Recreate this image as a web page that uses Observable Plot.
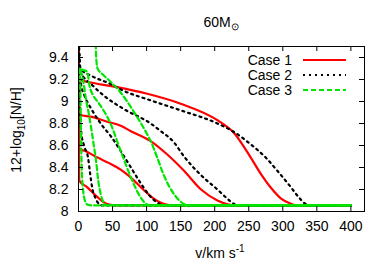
<!DOCTYPE html>
<html>
<head>
<meta charset="utf-8">
<script src="https://cdn.jsdelivr.net/npm/d3@7"></script>
<script src="https://cdn.jsdelivr.net/npm/@observablehq/plot@0.6"></script>
<style>
  html, body { margin: 0; padding: 0; background: #fff; }
  svg { font-family: "Liberation Sans", Arial, sans-serif; }
</style>
</head>
<body>
<div id="chart"></div>
<script>
// Case 1 (red solid)
const case1a = [[0,9.6],[1,9.2],[20,9.17],[57,9.13],[101,9.07],[150,8.98],[204,8.83],[229,8.71],[253,8.49],[268,8.34],[282,8.22],[297,8.12],[312,8.07],[320,8.055],[400,8.055]];
const case1b = [[0,9.6],[1,8.88],[20,8.86],[40,8.82],[62,8.78],[77,8.73],[106,8.64],[130,8.52],[155,8.37],[180,8.20],[204,8.10],[219,8.065],[230,8.055],[400,8.055]];
const case1c = [[0,9.6],[1,8.57],[10,8.55],[28,8.49],[45,8.44],[62,8.38],[80,8.29],[95,8.2],[110,8.12],[121,8.08],[131,8.06],[140,8.055],[400,8.055]];
const case1d = [[0,9.6],[1,8.28],[13,8.22],[28,8.13],[38,8.08],[47,8.06],[55,8.055],[400,8.055]];
// Case 2 (black dotted)
const case2a = [[0,9.6],[3,9.30],[20,9.23],[47,9.16],[62,9.11],[106,9.01],[150,8.92],[204,8.80],[229,8.72],[253,8.61],[275,8.49],[292,8.37],[312,8.22],[322,8.14],[331,8.08],[340,8.055],[400,8.055]];
const case2b = [[0,9.6],[3,9.27],[20,9.15],[40,9.04],[67,8.93],[106,8.80],[121,8.73],[140,8.63],[155,8.50],[180,8.33],[204,8.20],[218,8.12],[228,8.07],[236,8.055],[400,8.055]];
const case2c = [[0,9.6],[2,9.25],[5,9.12],[9,9.05],[20,8.92],[35,8.78],[48,8.68],[62,8.55],[75,8.42],[90,8.27],[105,8.14],[116,8.08],[125,8.055],[400,8.055]];
const case2d = [[0,9.6],[2,9.0],[4,8.72],[8,8.6],[14,8.49],[17,8.35],[20,8.22],[25,8.12],[30,8.07],[35,8.055],[400,8.055]];
// Case 3 (green dashed)
const case3a = [[25,9.6],[26,9.4],[28,9.3],[35,9.25],[47,9.18],[62,9.08],[82,8.90],[101,8.70],[106,8.64],[115,8.50],[126,8.32],[140,8.16],[150,8.09],[158,8.06],[165,8.055],[400,8.055]];
const case3b = [[5,9.29],[13,9.27],[16,9.15],[22,9.05],[28,9.0],[47,8.80],[62,8.55],[77,8.31],[91,8.13],[99,8.07],[105,8.055],[400,8.055]];
const case3c = [[3,9.28],[6,9.22],[11,9.02],[16,8.86],[22,8.62],[26,8.45],[29,8.28],[33,8.15],[37,8.08],[42,8.055],[400,8.055]];
const case3d = [[2,9.3],[3,9.0],[4,8.6],[5,8.35],[7,8.18],[10,8.09],[14,8.06],[20,8.055],[400,8.055]];

const xTicks = [0,50,100,150,200,250,300,350,400];
const yTicks = [8,8.2,8.4,8.6,8.8,9,9.2,9.4];
const yTickLabels = ["8","8.2","8.4","8.6","8.8","9","9.2","9.4"];
const legendLabels = ["Case 1","Case 2","Case 3"];

const groups = [
  {name: "Case 1", curves: [case1a, case1b, case1c, case1d]},
  {name: "Case 2", curves: [case2a, case2b, case2c, case2d]},
  {name: "Case 3", curves: [case3a, case3b, case3c, case3d]}
];
function rows(g) {
  const out = [];
  g.curves.forEach((c, i) => c.forEach(([v, n]) => out.push({v, n, curve: g.name + i})));
  return out;
}
const styles = {
  "Case 1": {stroke: "#ff0000", strokeWidth: 2.2, strokeDasharray: null},
  "Case 2": {stroke: "#000000", strokeWidth: 2.2, strokeDasharray: "2,4"},
  "Case 3": {stroke: "#00e600", strokeWidth: 2.2, strokeDasharray: "5,3"}
};

const W = 390, H = 273;
const mL = 78, mR = 26, mT = 46, mB = 62;
const pw = W - mL - mR, ph = H - mT - mB;
const tick = 5;

const lineMarks = groups.map(g => Plot.line(rows(g), {
  x: "v", y: "n", z: "curve", curve: "monotone-x", clip: true,
  stroke: styles[g.name].stroke, strokeWidth: styles[g.name].strokeWidth,
  strokeDasharray: styles[g.name].strokeDasharray
}));

const plot = Plot.plot({
  width: W, height: H,
  marginLeft: mL, marginRight: mR, marginTop: mT, marginBottom: mB,
  style: {fontFamily: "Liberation Sans, Arial, sans-serif", fontSize: "14px", background: "#fff", color: "#000"},
  x: {domain: [0, 420]},
  y: {domain: [8, 9.5]},
  marks: [
    ...lineMarks,
    Plot.frame({stroke: "#000", strokeWidth: 1}),
    Plot.tickX(xTicks, {x: d => d, insetTop: ph - tick, stroke: "#000"}),
    Plot.tickX(xTicks, {x: d => d, insetBottom: ph - tick, stroke: "#000"}),
    Plot.tickY(yTicks, {y: d => d, insetRight: pw - tick, stroke: "#000"}),
    Plot.tickY(yTicks, {y: d => d, insetLeft: pw - tick, stroke: "#000"}),
    Plot.axisX({ticks: xTicks, tickSize: 0, tickPadding: 10, label: null, fontSize: 14}),
    Plot.axisY({ticks: yTicks, tickSize: 0, tickPadding: 10, label: null, fontSize: 14,
      tickFormat: d => yTickLabels[yTicks.indexOf(d)]})
  ]
});

const svg = d3.select(plot);
const fnt = "Liberation Sans, Arial, sans-serif";

// Title
const t = svg.append("text").attr("x", 221).attr("y", 27).attr("text-anchor", "middle")
  .attr("font-family", fnt).attr("font-size", 14).attr("fill", "#000");
t.append("tspan").text("60M");
t.append("tspan").attr("font-size", 10).attr("dy", 3).text("\u2299");

// X label
const xl = svg.append("text").attr("x", 220).attr("y", 258).attr("text-anchor", "middle")
  .attr("font-family", fnt).attr("font-size", 14).attr("fill", "#000");
xl.append("tspan").text("v/km s");
xl.append("tspan").attr("font-size", 10).attr("dy", -6).text("-1");

// Y label
const yl = svg.append("text").attr("transform", "translate(21,130) rotate(-90)").attr("text-anchor", "middle")
  .attr("font-family", fnt).attr("font-size", 14).attr("fill", "#000");
yl.append("tspan").text("12+log");
yl.append("tspan").attr("font-size", 10).attr("dy", 4).text("10");
yl.append("tspan").attr("dy", -4).text("[N/H]");

// Legend
legendLabels.forEach((lab, i) => {
  const y = 60 + i * 15;
  svg.append("text").attr("x", 292).attr("y", y + 5).attr("text-anchor", "end")
    .attr("font-family", fnt).attr("font-size", 14).attr("fill", "#000").text(lab);
  const s = styles[lab];
  svg.append("line").attr("x1", 303).attr("x2", 346).attr("y1", y).attr("y2", y)
    .attr("stroke", s.stroke).attr("stroke-width", s.strokeWidth)
    .attr("stroke-dasharray", s.strokeDasharray);
});

document.getElementById("chart").appendChild(plot);
</script>
</body>
</html>
